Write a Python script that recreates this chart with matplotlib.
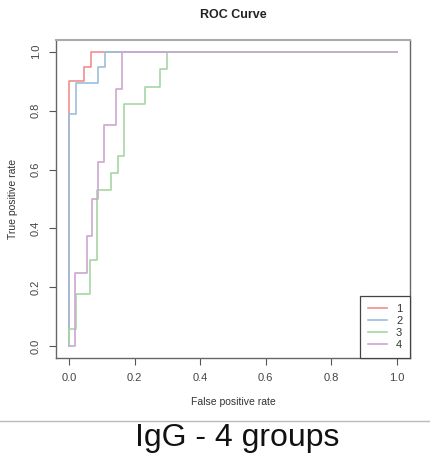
import matplotlib
matplotlib.use('Agg')
from matplotlib import pyplot as plt

plt.rcParams['font.family'] = ['Liberation Sans', 'DejaVu Sans']

# ROC 曲线的点 (假阳性率, 真阳性率)
fpr1 = [0, 0, 0.045, 0.045, 0.068, 0.068, 1]
tpr1 = [0, 0.90, 0.90, 0.95, 0.95, 1.0, 1.0]

fpr2 = [0, 0, 0.021, 0.021, 0.088, 0.088, 0.109, 0.109, 1]
tpr2 = [0, 0.789, 0.789, 0.895, 0.895, 0.947, 0.947, 1.0, 1.0]

fpr3 = [0, 0, 0.021, 0.021, 0.064, 0.064, 0.085, 0.085, 0.128, 0.128, 0.149, 0.149,
        0.168, 0.168, 0.233, 0.233, 0.278, 0.278, 0.299, 0.299, 1]
tpr3 = [0, 0.059, 0.059, 0.176, 0.176, 0.294, 0.294, 0.529, 0.529, 0.588, 0.588, 0.647,
        0.647, 0.824, 0.824, 0.882, 0.882, 0.941, 0.941, 1.0, 1.0]

fpr4 = [0, 0.019, 0.019, 0.054, 0.054, 0.071, 0.071, 0.089, 0.089, 0.107, 0.107,
        0.142, 0.142, 0.160, 0.160, 1]
tpr4 = [0, 0, 0.25, 0.25, 0.375, 0.375, 0.5, 0.5, 0.625, 0.625, 0.75, 0.75,
        0.875, 0.875, 1.0, 1.0]

labels = ['1', '2', '3', '4']
colors = ['#F28D8E', '#9BBFDC', '#A6D7A5', '#CCA7D1']
ticks = [0.0, 0.2, 0.4, 0.6, 0.8, 1.0]

fig = plt.figure(figsize=(4.31, 4.55), dpi=100)
ax = fig.add_axes([56 / 431, 97 / 455, 354 / 431, 318 / 455])

for fx, ty, lab, c in zip([fpr1, fpr2, fpr3, fpr4], [tpr1, tpr2, tpr3, tpr4], labels, colors):
    ax.plot(fx, ty, color=c, lw=1.2, label=lab)

ax.set_xlim(-0.04, 1.04)
ax.set_ylim(-0.04, 1.04)
ax.set_xticks(ticks)
ax.set_yticks(ticks)
ax.set_xticklabels(['%.1f' % t for t in ticks])
ax.set_yticklabels(['%.1f' % t for t in ticks], rotation=90, va='center')
ax.tick_params(length=5, width=0.8, color='#555555', labelcolor='#444444', labelsize=8, pad=6)
for s in ax.spines.values():
    s.set_color('#666666')
    s.set_linewidth(1.0)
ax.spines['top'].set_color('#aaaaaa')
ax.spines['top'].set_linewidth(1.5)

leg = ax.legend(loc='lower right', borderaxespad=0, fancybox=False, fontsize=8,
                handlelength=1.7, handletextpad=0.8, labelspacing=0.2, borderpad=0.7,
                framealpha=1)
leg.get_frame().set_edgecolor('#444444')
leg.get_frame().set_linewidth(0.9)
for t in leg.get_texts():
    t.set_color('#333333')

fig.text(233 / 431, 1 - 15 / 455, 'ROC Curve', ha='center', va='center',
         fontsize=9, fontweight='bold', color='#222222')
fig.text(233 / 431, 1 - 402 / 455, 'False positive rate', ha='center', va='center',
         fontsize=7.5, color='#333333')
fig.text(13 / 431, 1 - 199 / 455, 'True positive rate', ha='center', va='center',
         rotation=90, fontsize=7.5, color='#333333')

# 分隔线和下方标题
fig.add_artist(plt.Line2D([0, 430 / 431], [1 - 421 / 455, 1 - 421 / 455],
                          color='#bbbbbb', lw=1, transform=fig.transFigure))
fig.text(237 / 431, 1 - 446 / 455, 'IgG - 4 groups', ha='center', va='baseline',
         fontsize=23, color='#111111')

plt.savefig('out.png', dpi=100)
